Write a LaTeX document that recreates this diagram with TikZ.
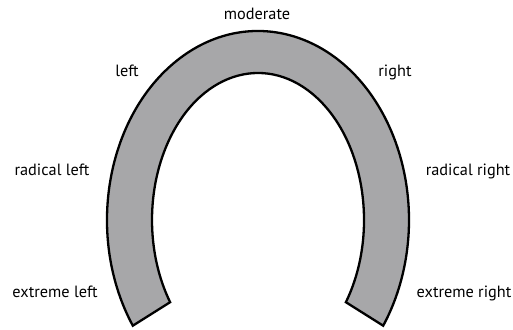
\documentclass[tikz,border=0pt]{standalone}
\usepackage{fontspec}
\setmainfont{PT Sans}
\usetikzlibrary{positioning, calc}
\definecolor{shoegrey}{HTML}{A7A7A9}
\tikzset{
  every picture/.style={x=1pt, y=1pt},
  shoe/.style={draw=black, fill=shoegrey, line width=2.3pt, line join=miter},
  label/.style={font=\fontsize{16.3}{18}\selectfont, anchor=base, inner sep=0pt},
}
\begin{document}
\begin{tikzpicture}
  \useasboundingbox (0,0) rectangle (513,329);
  % horseshoe: outer and inner elliptical arcs about one centre
  \coordinate (c) at (258,109);
  \draw[shoe] ($(c)+({151*cos(214)},{189*sin(214)})$) arc[start angle=214, end angle=-34, x radius=151, y radius=189]
    -- ($(c)+({106*cos(-34)},{147*sin(-34)})$) arc[start angle=-34, end angle=214, x radius=106, y radius=147] -- cycle;
  % positions along the spectrum
  \node[label] (moderate) at (257,309) {moderate};
  \node[label] (left) at (127,252) {left};
  \node[label] (right) at (395,252) {right};
  \node[label] (radleft) at (52,153) {radical left};
  \node[label] (radright) at (468,153) {radical right};
  \node[label] (extleft) at (55,32) {extreme left};
  \node[label] (extright) at (464,32) {extreme right};
\end{tikzpicture}
\end{document}
